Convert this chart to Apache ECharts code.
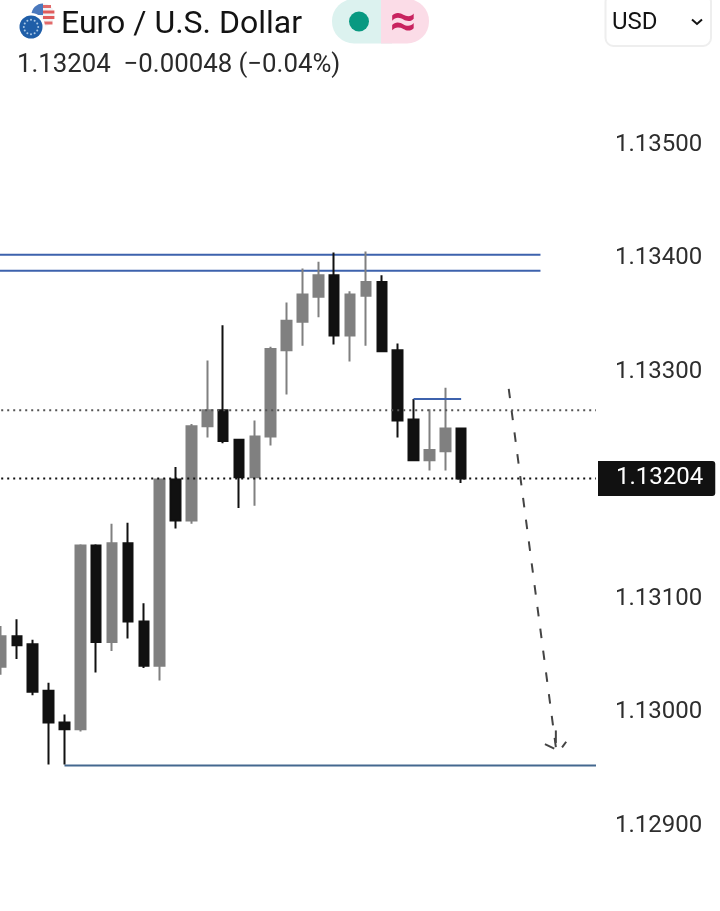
<!DOCTYPE html>
<html>
<head>
<meta charset="utf-8">
<title>Euro / U.S. Dollar</title>
<style>
  html, body { margin: 0; padding: 0; background: #fff; }
  #main { width: 720px; height: 911px; }
</style>
<script src="https://cdn.jsdelivr.net/npm/echarts@6/dist/echarts.min.js"></script>
</head>
<body>
<div id="main"></div>
<script>
// candles, left to right
const open  = [1.13038, 1.13065, 1.13058, 1.13017, 1.12989, 1.12983, 1.13145, 1.13060, 1.13147, 1.13078, 1.13039, 1.13203, 1.13167, 1.13250, 1.13264, 1.13238, 1.13205, 1.13241, 1.13317, 1.13342, 1.13364, 1.13383, 1.13330, 1.13365, 1.13377, 1.13317, 1.13256, 1.13220, 1.13228, 1.13248];
const close = [1.13065, 1.13057, 1.13016, 1.12989, 1.12983, 1.13145, 1.13060, 1.13147, 1.13078, 1.13039, 1.13203, 1.13167, 1.13250, 1.13264, 1.13237, 1.13205, 1.13241, 1.13318, 1.13343, 1.13366, 1.13383, 1.13330, 1.13366, 1.13377, 1.13316, 1.13255, 1.13220, 1.13229, 1.13248, 1.13204];
const low   = [1.13031, 1.13045, 1.13013, 1.12952, 1.12952, 1.12981, 1.13033, 1.13052, 1.13063, 1.13037, 1.13026, 1.13160, 1.13164, 1.13240, 1.13235, 1.13178, 1.13180, 1.13233, 1.13278, 1.13321, 1.13346, 1.13322, 1.13307, 1.13321, 1.13316, 1.13240, 1.13220, 1.13211, 1.13211, 1.13200];
const high  = [1.13074, 1.13080, 1.13062, 1.13024, 1.12996, 1.13146, 1.13146, 1.13164, 1.13165, 1.13094, 1.13204, 1.13214, 1.13252, 1.13308, 1.13339, 1.13238, 1.13255, 1.13320, 1.13359, 1.13389, 1.13395, 1.13403, 1.13369, 1.13404, 1.13383, 1.13323, 1.13274, 1.13265, 1.13284, 1.13248];

const priceTicks = [1.129, 1.13, 1.131, 1.133, 1.134, 1.135];
const lastPrice = 1.13204;
const prevLevel = 1.13264;

// drawn levels: [bar index, price]
const resistanceHigh = [[-1, 1.13401], [34, 1.13401]];
const resistanceLow  = [[-1, 1.13387], [34, 1.13387]];
const supportLine    = [[4, 1.12951], [37.5, 1.12951]];
const shortLine      = [[26, 1.13274], [29, 1.13274]];
const lastLine       = [[-1.5, lastPrice], [37.5, lastPrice]];
const prevLine       = [[-1.5, prevLevel], [37.5, prevLevel]];
const arrowShaft     = [[32, 1.13283], [35, 1.12964]];
const arrowLeft      = [[34.28, 1.12970], [34.87, 1.12966]];
const arrowMid       = [[34.97, 1.12982], [34.97, 1.12971]];
const arrowRight     = [[35.36, 1.12967], [35.62, 1.12972]];

const barsAfter = 8; // empty space right of the last candle
const candles = [['-', '-', '-', '-']];
const categories = ['-1'];
for (let i = 0; i < open.length; i++) {
  candles.push([open[i], close[i], low[i], high[i]]);
  categories.push(String(i));
}
for (let i = 0; i < barsAfter; i++) {
  candles.push(['-', '-', '-', '-']);
  categories.push(String(open.length + i));
}

const FONT = 'Roboto, sans-serif';
const BLUE = '#3d62ad';

function levelSeries(data, color, width, dash, z) {
  return {
    type: 'line',
    xAxisIndex: 1,
    data: data,
    symbol: 'none',
    silent: true,
    z: z,
    clip: false,
    lineStyle: { color: color, width: width, type: dash, cap: 'butt' }
  };
}

// twelve stars of the EU flag
const euStars = [];
for (let i = 0; i < 12; i++) {
  const a = i * Math.PI / 6;
  euStars.push({
    type: 'circle',
    shape: { cx: 31 + 7.2 * Math.cos(a), cy: 27 + 7.2 * Math.sin(a), r: 1 },
    style: { fill: '#a9c8e6' }
  });
}

const headerGraphics = [
  // flags
  { type: 'circle', shape: { cx: 43, cy: 15, r: 11.5 }, style: { fill: '#f3f3f6' } },
  { type: 'sector', shape: { cx: 43, cy: 15, r: 11.5, startAngle: Math.PI, endAngle: Math.PI * 1.5 }, style: { fill: '#4a78bd' } },
  { type: 'rect', shape: { x: 43, y: 5, width: 8, height: 3 }, style: { fill: '#e26a6a' } },
  { type: 'rect', shape: { x: 43, y: 10.5, width: 11.4, height: 3 }, style: { fill: '#e05c5c' } },
  { type: 'rect', shape: { x: 43, y: 16, width: 11.4, height: 3 }, style: { fill: '#e05c5c' } },
  { type: 'rect', shape: { x: 44, y: 21.5, width: 8.5, height: 3 }, style: { fill: '#e26a6a' } },
  { type: 'circle', shape: { cx: 31, cy: 27, r: 14 }, style: { fill: '#fff' } },
  { type: 'circle', shape: { cx: 31, cy: 27, r: 11.5 }, style: { fill: '#1f5ea8' } },
  ...euStars,
  // title
  { type: 'text', style: { x: 61, y: 25, text: 'Euro / U.S. Dollar', font: '32px ' + FONT, fill: '#131313', textVerticalAlign: 'middle' } },
  { type: 'text', style: { x: 17, y: 66, text: '1.13204  \u22120.00048 (\u22120.04%)', font: '25.8px ' + FONT, fill: '#2a2a2a', textVerticalAlign: 'middle' } },
  // market status pill
  { type: 'rect', shape: { x: 332, y: -1, width: 60, height: 44.5, r: [22, 0, 0, 22] }, style: { fill: '#dcf2ef' } },
  { type: 'rect', shape: { x: 381, y: -1, width: 48, height: 44.5, r: [0, 22, 22, 0] }, style: { fill: '#fbdce7' } },
  { type: 'circle', shape: { cx: 359, cy: 21.5, r: 10 }, style: { fill: '#089981' } },
  { type: 'text', style: { x: 403, y: 24, text: '\u2248', font: 'bold 46px ' + FONT, fill: '#c8235f', textAlign: 'center', textVerticalAlign: 'middle' } },
  // currency select
  { type: 'rect', shape: { x: 605.5, y: -6, width: 105.5, height: 52, r: 8 }, style: { fill: '#fff', stroke: '#eeeeee', lineWidth: 2 } },
  { type: 'text', style: { x: 612, y: 23, text: 'USD', font: '24px ' + FONT, fill: '#131313', textVerticalAlign: 'middle' } },
  { type: 'polyline', shape: { points: [[692, 19.5], [697, 24], [702, 19.5]] }, style: { fill: 'none', stroke: '#131313', lineWidth: 2 } }
];

const chart = echarts.init(document.getElementById('main'), null, { renderer: 'canvas' });
chart.setOption({
  animation: false,
  backgroundColor: '#fff',
  grid: { left: -22.79, top: 142.5, width: 618.79, height: 681, containLabel: false, outerBoundsMode: 'none' },
  xAxis: [
    { type: 'category', data: categories, show: false, boundaryGap: true },
    { type: 'value', min: -1.5, max: 37.5, show: false, splitLine: { show: false } }
  ],
  yAxis: {
    type: 'value',
    position: 'right',
    min: 1.129,
    max: 1.135,
    scale: true,
    axisLine: { show: false },
    axisTick: { show: false },
    splitLine: { show: false },
    axisLabel: {
      customValues: priceTicks,
      margin: 19,
      verticalAlign: 'top',
      lineHeight: 4, // centres the digits 2px under the tick
      fontFamily: FONT,
      fontSize: 24,
      color: '#2e2e2e',
      formatter: v => v.toFixed(5)
    }
  },
  series: [
    levelSeries(resistanceHigh, BLUE, 2, 'solid', 1),
    levelSeries(resistanceLow, BLUE, 2, 'solid', 1),
    levelSeries(supportLine, '#44688f', 2, 'solid', 1),
    {
      type: 'candlestick',
      data: candles,
      barWidth: 10,
      z: 2,
      silent: true,
      itemStyle: {
        color: '#808080',
        borderColor: '#808080',
        color0: '#111111',
        borderColor0: '#111111',
        borderWidth: 2
      }
    },
    levelSeries(shortLine, BLUE, 2, 'solid', 3),
    levelSeries(prevLine, '#555555', 2, [2, 4], 3),
    Object.assign(levelSeries(lastLine, '#111111', 2, [2, 4], 3), {
      endLabel: {
        show: true,
        distance: 2,
        formatter: () => lastPrice.toFixed(5),
        fontFamily: FONT,
        fontSize: 24,
        color: '#ffffff',
        backgroundColor: '#111111',
        borderRadius: [0, 3, 3, 0],
        padding: [8, 12, 3, 18]
      }
    }),
    levelSeries(arrowShaft, '#444444', 2, [9.5, 12.5], 3),
    levelSeries(arrowLeft, '#444444', 2, 'solid', 3),
    levelSeries(arrowMid, '#444444', 2, 'solid', 3),
    levelSeries(arrowRight, '#444444', 2, 'solid', 3)
  ],
  graphic: { elements: headerGraphics }
});
</script>
</body>
</html>
